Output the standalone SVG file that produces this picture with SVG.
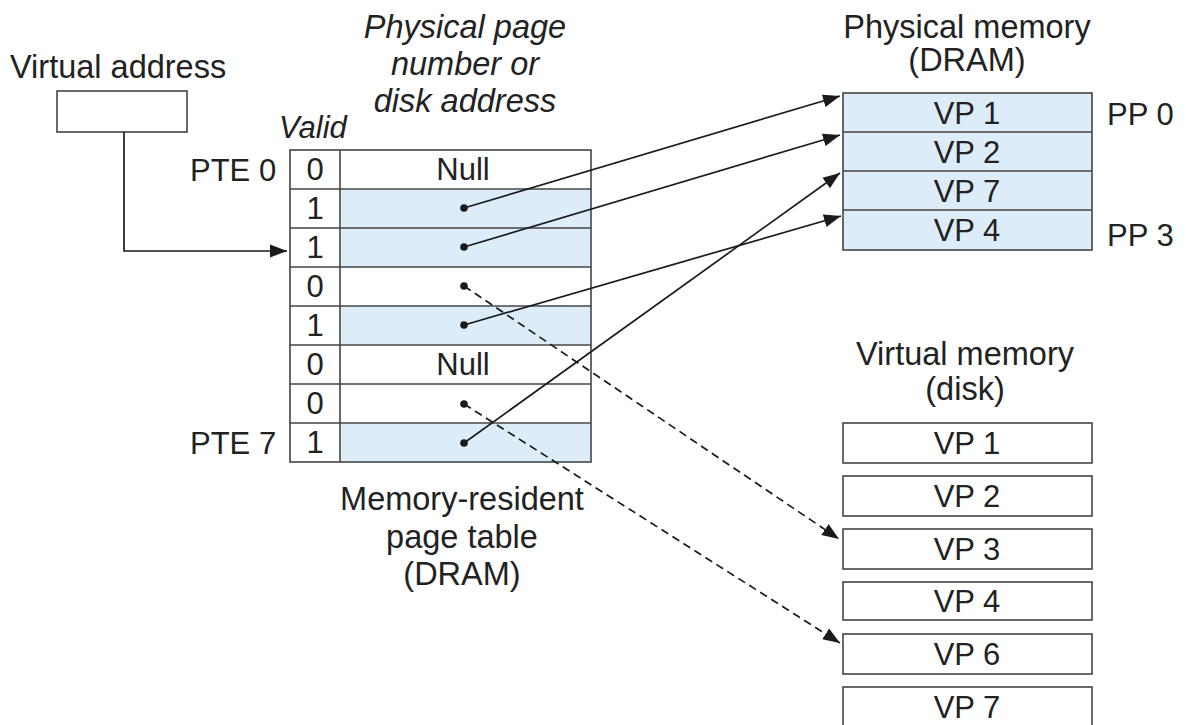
<svg xmlns="http://www.w3.org/2000/svg" width="1186" height="725" viewBox="0 0 1186 725">
<defs>
<marker id="ah" markerUnits="userSpaceOnUse" markerWidth="20" markerHeight="14" refX="17" refY="7" orient="auto">
<path d="M0,0.5 L17,7 L0,13.5 Z" fill="#1a1a1a"/>
</marker>
</defs>
<style>
.t{font-family:"Liberation Sans",Arial,sans-serif;font-size:31px;fill:#222;}
.l{font-size:32.5px;}
.i{font-style:italic;}
.m{text-anchor:middle;}
.box{fill:#fff;stroke:#444;stroke-width:1.6;}
.blue{fill:#dcedf9;stroke:none;}
.ln{stroke:#444;stroke-width:1.6;fill:none;}
.arr{stroke:#1a1a1a;stroke-width:1.7;fill:none;marker-end:url(#ah);}
.dash{stroke-dasharray:8 5;}
.dot{fill:#1a1a1a;}
</style>
<rect width="1186" height="725" fill="#fff"/>

<g id="virtual-address">
<text class="t l" x="10" y="78">Virtual address</text>
<rect class="box" x="57" y="91" width="130" height="41"/>
</g>

<g id="header-labels">
<text class="t l i m" x="465" y="38">Physical page</text>
<text class="t l i m" x="465" y="75">number or</text>
<text class="t l i m" x="465" y="112">disk address</text>
<text class="t i" x="279" y="138">Valid</text>
</g>

<g id="page-table">
<rect class="box" x="290" y="150" width="301" height="312"/>
<rect class="blue" x="341" y="190" width="249" height="77"/>
<rect class="blue" x="341" y="307" width="249" height="37"/>
<rect class="blue" x="341" y="424" width="249" height="37"/>
<path class="ln" d="M340,150 V462 M290,189 H591 M290,228 H591 M290,267 H591 M290,306 H591 M290,345 H591 M290,384 H591 M290,423 H591"/>
<text class="t m" x="315" y="180">0</text>
<text class="t m" x="315" y="219">1</text>
<text class="t m" x="315" y="258">1</text>
<text class="t m" x="315" y="297">0</text>
<text class="t m" x="315" y="336">1</text>
<text class="t m" x="315" y="375">0</text>
<text class="t m" x="315" y="414">0</text>
<text class="t m" x="315" y="453">1</text>
<text class="t m" x="463" y="180">Null</text>
<text class="t m" x="463" y="375">Null</text>
<circle class="dot" cx="464" cy="208" r="3.8"/>
<circle class="dot" cx="464" cy="247" r="3.8"/>
<circle class="dot" cx="464" cy="286" r="3.8"/>
<circle class="dot" cx="464" cy="325" r="3.8"/>
<circle class="dot" cx="464" cy="404" r="3.8"/>
<circle class="dot" cx="464" cy="443" r="3.8"/>
<text class="t" x="190" y="181">PTE 0</text>
<text class="t" x="190" y="454">PTE 7</text>
<text class="t l m" x="462" y="510">Memory-resident</text>
<text class="t l m" x="462" y="548">page table</text>
<text class="t l m" x="462" y="585">(DRAM)</text>
</g>

<g id="physical-memory">
<text class="t l m" x="967" y="38">Physical memory</text>
<text class="t l m" x="967" y="71">(DRAM)</text>
<rect x="843" y="93" width="249" height="157" fill="#dcedf9" stroke="#444" stroke-width="1.6"/>
<path class="ln" d="M843,132 H1092 M843,171 H1092 M843,210 H1092"/>
<text class="t m" x="967" y="124">VP 1</text>
<text class="t m" x="967" y="163">VP 2</text>
<text class="t m" x="967" y="202">VP 7</text>
<text class="t m" x="967" y="241">VP 4</text>
<text class="t" x="1107" y="125">PP 0</text>
<text class="t" x="1107" y="246">PP 3</text>
</g>

<g id="virtual-memory">
<text class="t l m" x="965" y="365">Virtual memory</text>
<text class="t l m" x="965" y="400">(disk)</text>
<rect class="box" x="843" y="423" width="249" height="40"/>
<rect class="box" x="843" y="476" width="249" height="40"/>
<rect class="box" x="843" y="529" width="249" height="40"/>
<rect class="box" x="843" y="582" width="249" height="38"/>
<rect class="box" x="843" y="634" width="249" height="40"/>
<rect class="box" x="843" y="687" width="249" height="45"/>
<text class="t m" x="967" y="454">VP 1</text>
<text class="t m" x="967" y="507">VP 2</text>
<text class="t m" x="967" y="560">VP 3</text>
<text class="t m" x="967" y="612">VP 4</text>
<text class="t m" x="967" y="665">VP 6</text>
<text class="t m" x="967" y="718">VP 7</text>
</g>

<g id="connectors">
<polyline class="arr" points="124,132 124,251 287,251"/>
<line class="arr" x1="464" y1="208" x2="840" y2="96"/>
<line class="arr" x1="464" y1="247" x2="840" y2="135"/>
<line class="arr" x1="464" y1="325" x2="841" y2="216"/>
<line class="arr" x1="464" y1="443" x2="840" y2="173"/>
<line class="arr dash" x1="464" y1="286" x2="839" y2="539"/>
<line class="arr dash" x1="464" y1="404" x2="840" y2="643"/>
</g>
</svg>
